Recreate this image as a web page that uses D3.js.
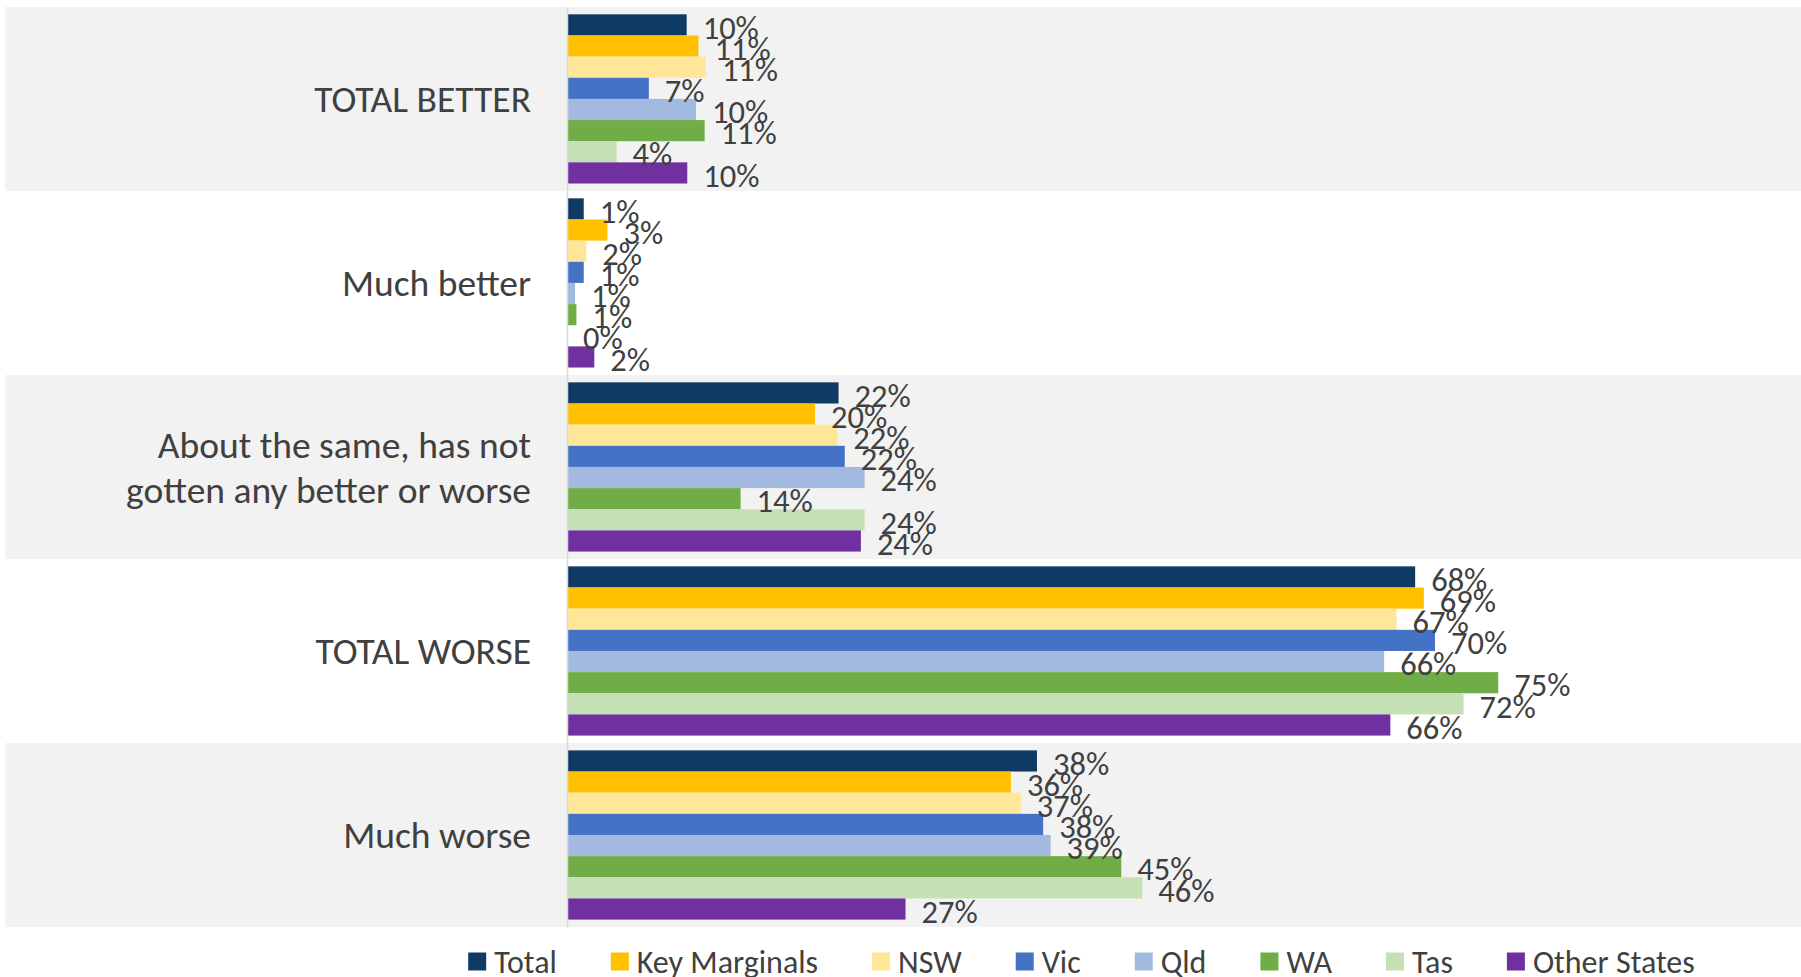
<!DOCTYPE html>
<html>
<head>
<meta charset="utf-8">
<script src="https://cdn.jsdelivr.net/npm/d3@7"></script>
<style>
  html, body { margin: 0; padding: 0; background: #ffffff; }
  svg { display: block; }
</style>
</head>
<body>
<svg id="chart" width="1801" height="977"></svg>
<script>
const categories = [
  ["TOTAL BETTER"],
  ["Much better"],
  ["About the same, has not", "gotten any better or worse"],
  ["TOTAL WORSE"],
  ["Much worse"]
];
const seriesNames = ["Total", "Key Marginals", "NSW", "Vic", "Qld", "WA", "Tas", "Other States"];
const seriesColors = ["#0E3A64", "#FFC000", "#FFE699", "#4472C4", "#A2B9E0", "#70AD47", "#C5E0B4", "#7030A0"];

const totalVals       = [9.65, 1.35, 21.9, 68.4, 37.9];
const keyMarginalVals = [10.6, 3.26, 20.0, 69.1, 35.8];
const nswVals         = [11.2, 1.56, 21.8, 66.9, 36.6];
const vicVals         = [6.6, 1.35, 22.4, 70.0, 38.4];
const qldVals         = [10.4, 0.65, 24.0, 65.9, 39.0];
const waVals          = [11.1, 0.76, 14.0, 75.1, 44.7];
const tasVals         = [4.0, 0.0, 24.0, 72.3, 46.4];
const otherVals       = [9.7, 2.2, 23.7, 66.4, 27.3];

const seriesValues = [totalVals, keyMarginalVals, nswVals, vicVals, qldVals, waVals, tasVals, otherVals];

const svg = d3.select("#chart");
const FONT = "Carlito, Calibri, Lato, sans-serif";
const TEXT = "#404040";

const catIdx = d3.range(categories.length);
const y = d3.scaleBand().domain(catIdx).range([6.9, 927]).padding(0);
const yInner = d3.scaleBand().domain(d3.range(seriesNames.length)).range([0, y.bandwidth()]).paddingOuter(0.35).paddingInner(0);
const x = d3.scaleLinear().domain([0, 100]).range([567, 1807]);

// Alternating background bands
svg.append("g").selectAll("rect")
  .data(catIdx.filter(i => i % 2 === 0))
  .join("rect")
  .attr("x", 5)
  .attr("y", i => y(i))
  .attr("width", 1801 - 5)
  .attr("height", y.bandwidth())
  .attr("fill", "#F2F2F2");

// Bars
const groups = svg.append("g").selectAll("g")
  .data(catIdx)
  .join("g")
  .attr("transform", i => `translate(0,${y(i)})`);

groups.selectAll("rect")
  .data(ci => seriesValues.map((vals, si) => ({ si, v: vals[ci] })))
  .join("rect")
  .attr("x", x(0))
  .attr("y", d => yInner(d.si))
  .attr("width", d => x(d.v) - x(0))
  .attr("height", yInner.bandwidth())
  .attr("fill", d => seriesColors[d.si]);

groups.selectAll("text")
  .data(ci => seriesValues.map((vals, si) => ({ si, v: vals[ci] })))
  .join("text")
  .attr("x", d => x(d.v) + 16)
  .attr("y", d => yInner(d.si) + yInner.bandwidth() / 2 + 2)
  .attr("dy", "0.36em")
  .attr("font-family", FONT)
  .attr("font-size", 32.5)
  .attr("fill", TEXT)
  .text(d => Math.round(d.v) + "%");

// Category axis
const axis = svg.append("g")
  .attr("transform", `translate(${x(0)},0)`)
  .call(d3.axisLeft(y).tickSize(0).tickPadding(36).tickFormat(() => ""));
axis.select(".domain").attr("stroke", "#D9D9D9").attr("stroke-width", 1.5);
axis.selectAll(".tick text").remove();
axis.selectAll(".tick").each(function(i) {
  const lines = categories[i];
  const t = d3.select(this).append("text")
    .attr("x", -36)
    .attr("text-anchor", "end")
    .attr("font-family", FONT)
    .attr("font-size", 37.5)
    .attr("fill", TEXT);
  const lh = 45;
  lines.forEach((ln, k) => {
    t.append("tspan")
      .attr("x", -36)
      .attr("y", (k - (lines.length - 1) / 2) * lh)
      .attr("dy", "0.35em")
      .text(ln);
  });
});

// Legend
const legend = svg.append("g");
const items = legend.selectAll("g")
  .data(seriesNames)
  .join("g");
items.append("rect")
  .attr("width", 18).attr("height", 18)
  .attr("y", 961.5 - 9)
  .attr("fill", (d, i) => seriesColors[i]);
items.append("text")
  .attr("x", 26)
  .attr("y", 961.5)
  .attr("dy", "0.36em")
  .attr("font-family", FONT)
  .attr("font-size", 32)
  .attr("fill", TEXT)
  .text(d => d);
let cx = 0;
const offsets = [];
items.each(function() {
  const w = d3.select(this).select("text").node().getComputedTextLength();
  offsets.push(cx);
  cx += 26 + w + 54;
});
const legendWidth = cx - 54;
const legendStart = 1081.5 - legendWidth / 2;
items.attr("transform", (d, i) => `translate(${legendStart + offsets[i]},0)`);
</script>
</body>
</html>
